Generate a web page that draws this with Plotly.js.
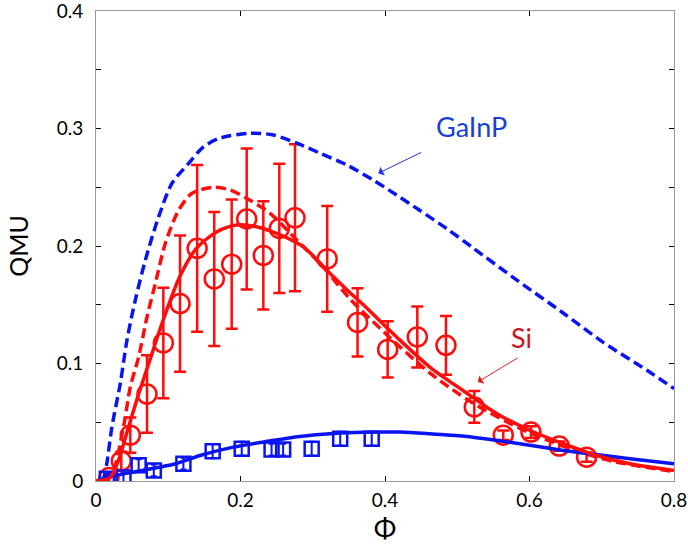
<!DOCTYPE html>
<html>
<head>
<meta charset="utf-8">
<script src="https://cdn.plot.ly/plotly-3.0.1.min.js"></script>
<style>html,body{margin:0;padding:0;background:#fff;}#chart{width:688px;height:549px;}</style>
</head>
<body>
<div id="chart"></div>
<script>
// Si measured (circles)
const siX = [0.018,0.035,0.0475,0.0706,0.0932,0.1163,0.140,0.1637,0.1878,0.2086,0.2316,0.2537,0.2754,0.320,0.362,0.4037,0.4447,0.4844,0.5236,0.5637,0.602,0.6412,0.679];
const siY = [0.003,0.017,0.039,0.074,0.1175,0.151,0.198,0.172,0.1845,0.223,0.192,0.215,0.224,0.189,0.135,0.112,0.1226,0.1155,0.063,0.039,0.0416,0.0297,0.0203];
const siErr = [0.004,0.008,0.015,0.033,0.047,0.058,0.071,0.057,0.055,0.060,0.046,0.055,0.0625,0.045,0.029,0.024,0.026,0.025,0.0135,0.004,0.005,0.004,0.004];

// GaInP measured (squares)
const gaX = [0.015,0.038,0.059,0.080,0.121,0.1615,0.2017,0.243,0.259,0.2985,0.338,0.3816];
const gaY = [0.002,0.003,0.0135,0.009,0.0147,0.0254,0.0274,0.0268,0.0268,0.0274,0.036,0.036];
const gaErr = [0.004,0.004,0.005,0.005,0.005,0.006,0.006,0.005,0.005,0.006,0.006,0.006];

// GaInP model (dashed blue)
const gaDashX = [0.01,0.015,0.022,0.0336,0.0429,0.0544,0.0683,0.0868,0.1052,0.1283,0.148,0.17,0.2132,0.2455,0.278,0.31,0.347,0.384,0.416,0.4484,0.4854,0.52,0.582,0.647,0.702,0.762,0.8];
const gaDashY = [0,0.015,0.046,0.083,0.12,0.154,0.188,0.225,0.2534,0.2704,0.284,0.2915,0.296,0.2945,0.2875,0.279,0.269,0.256,0.2434,0.2302,0.2148,0.1992,0.1712,0.1428,0.118,0.0945,0.0786];

// Si model (dashed red)
const siDashX = [0.012,0.022,0.038,0.0475,0.059,0.0706,0.0821,0.0959,0.1145,0.1329,0.162,0.1855,0.213,0.241,0.278,0.3146,0.35,0.40,0.46,0.52,0.6,0.7,0.8];
const siDashY = [0,0.005,0.046,0.08,0.1055,0.1397,0.168,0.2022,0.2306,0.2449,0.25,0.2477,0.239,0.2278,0.205,0.182,0.156,0.126,0.093,0.067,0.041,0.019,0.008];

// Si fit (solid red)
const siFitX = [0,0.02,0.031,0.045,0.059,0.073,0.093,0.116,0.139,0.167,0.195,0.222,0.250,0.287,0.324,0.352,0.37,0.416,0.462,0.508,0.555,0.601,0.647,0.693,0.739,0.8];
const siFitY = [0,0.003,0.0175,0.046,0.074,0.1,0.137,0.174,0.198,0.212,0.2178,0.2164,0.2107,0.1993,0.1766,0.160,0.15,0.1226,0.097,0.077,0.0573,0.043,0.0317,0.0217,0.0147,0.009];

// GaInP fit (solid blue)
const gaFitX = [0,0.022,0.064,0.11,0.144,0.19,0.24,0.282,0.3285,0.37,0.421,0.462,0.51,0.555,0.6,0.647,0.7,0.739,0.8];
const gaFitY = [0,0.004,0.009,0.0147,0.0217,0.0288,0.034,0.0379,0.0405,0.0415,0.0416,0.0402,0.038,0.0345,0.0305,0.026,0.022,0.019,0.0147];

const xTicks = [0,0.2,0.4,0.6,0.8];
const xTickText = ['0','0.2','0.4','0.6','0.8'];
const yTicks = [0,0.1,0.2,0.3,0.4];
const yTickText = ['0','0.1','0.2','0.3','0.4'];

const BLUE = '#0a14f0';
const RED = '#ff0d0d';
const FONT = 'Lato, "Open Sans", sans-serif';

const traces = [
  {x: siX, y: siY, type:'scatter', mode:'markers',
   marker:{symbol:'circle-open', size:19, color:RED, line:{width:2.5, color:RED}},
   error_y:{type:'data', array:siErr, visible:true, color:RED, thickness:2.5, width:6}},
  {x: gaX, y: gaY, type:'scatter', mode:'markers',
   marker:{symbol:'square-open', size:14, color:BLUE, line:{width:2.5, color:BLUE}},
   error_y:{type:'data', array:gaErr, visible:true, color:BLUE, thickness:2, width:3}},
  {x: gaDashX, y: gaDashY, type:'scatter', mode:'lines', line:{color:BLUE, width:3.5, dash:'10px,5px', shape:'spline', smoothing:0.8}},
  {x: siDashX, y: siDashY, type:'scatter', mode:'lines', line:{color:RED, width:3.5, dash:'10px,5px', shape:'spline', smoothing:0.8}},
  {x: gaFitX, y: gaFitY, type:'scatter', mode:'lines', line:{color:BLUE, width:3.5, shape:'spline', smoothing:0.8}},
  {x: siFitX, y: siFitY, type:'scatter', mode:'lines', line:{color:RED, width:3.5, shape:'spline', smoothing:0.8}}
];

const axisCommon = {
  showgrid:false, zeroline:false, showline:true, linecolor:'#9a9a9a', linewidth:1,
  mirror:'ticks', ticks:'inside', ticklen:5, tickcolor:'#000', tickwidth:1,
  ticklabeloverflow:'allow',
  tickfont:{family:FONT, size:19, color:'#000'}
};

const layout = {
  width:688, height:549,
  margin:{l:96, r:14, t:11, b:68},
  paper_bgcolor:'#fff', plot_bgcolor:'#fff',
  showlegend:false,
  xaxis: Object.assign({}, axisCommon, {
    range:[0,0.8], tickvals:xTicks, ticktext:xTickText, ticklabelstandoff:2,
    title:{text:'Φ', font:{family:FONT, size:27, color:'#000'}, standoff:6}
  }),
  yaxis: Object.assign({}, axisCommon, {
    range:[0,0.40001], tickvals:yTicks, ticktext:yTickText, ticklabelstandoff:8,
    minor:{dtick:0.05, ticks:'inside', ticklen:5, tickcolor:'#000'},
    title:{text:'QMU', font:{family:FONT, size:25, color:'#000'}, standoff:20}
  }),
  annotations:[
    {x:0.5204, y:0.302, xref:'x', yref:'y', text:'GaInP', showarrow:false, font:{family:FONT, size:27, color:'#1a3fd6'}},
    {x:0.3907, y:0.2619, xref:'x', yref:'y', ax:0.4522, ay:0.2803, axref:'x', ayref:'y', text:'', showarrow:true, arrowhead:1, arrowsize:1.6, arrowwidth:1, arrowcolor:'#2233ee'},
    {x:0.589, y:0.1223, xref:'x', yref:'y', text:'Si', showarrow:false, font:{family:FONT, size:27, color:'#c8161d'}},
    {x:0.5283, y:0.0842, xref:'x', yref:'y', ax:0.5855, ay:0.1055, axref:'x', ayref:'y', text:'', showarrow:true, arrowhead:1, arrowsize:1.6, arrowwidth:1, arrowcolor:'#dd2222'}
  ]
};

Plotly.newPlot('chart', traces, layout, {displayModeBar:false, staticPlot:true});
</script>
</body>
</html>
